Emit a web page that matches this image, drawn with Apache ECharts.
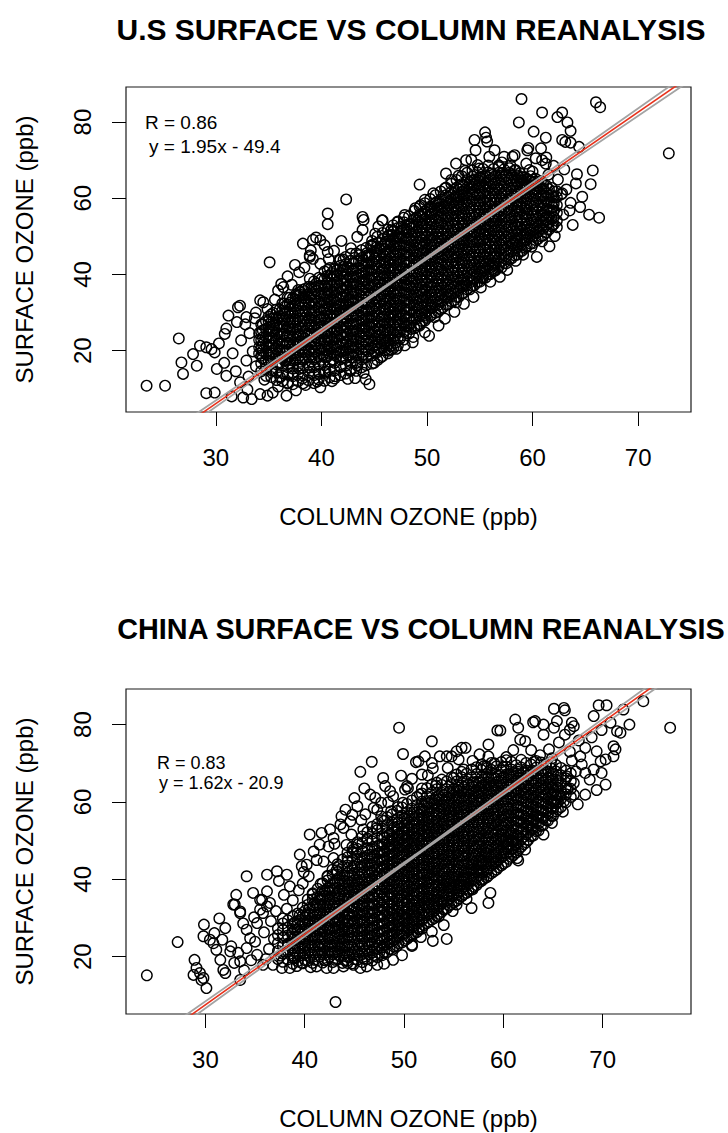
<!DOCTYPE html>
<html>
<head>
<meta charset="utf-8">
<script src="https://cdn.jsdelivr.net/npm/echarts@6/dist/echarts.min.js"></script>
<style>
html,body{margin:0;padding:0;background:#fff;}
#chart{width:728px;height:1133px;}
</style>
</head>
<body>
<div id="chart"></div>
<script>
// ---------------- text ----------------
const panelTitles = ['U.S SURFACE VS COLUMN REANALYSIS', 'CHINA SURFACE VS COLUMN REANALYSIS'];
const xAxisTitle = 'COLUMN OZONE (ppb)';
const yAxisTitle = 'SURFACE OZONE (ppb)';
const xTickValues = [30, 40, 50, 60, 70];
const yTickValues = [20, 40, 60, 80];
const usStats = ['R = 0.86', 'y = 1.95x - 49.4'];
const cnStats = ['R = 0.83', 'y = 1.62x - 20.9'];

// ---------------- axis ranges (read from the frame) ----------------
const usXRange = [21.5, 75.0];
const usYRange = [3.9, 89.2];
const cnXRange = [22.0, 78.9];
const cnYRange = [5.2, 89.2];

// ---------------- regression line and its band, as drawn ----------------
const usFit = [[27, 0.35], [76, 94.1]];
const usBandUpper = [[27, 1.3], [47, 38.75], [76, 95.3]];
const usBandLower = [[27, -0.6], [47, 38.45], [76, 92.9]];
const cnFit = [[27, 2.1], [79, 97.05]];
const cnBandUpper = [[27, 3.1], [52, 47.9], [79, 98.2]];
const cnBandLower = [[27, 1.1], [52, 47.6], [79, 95.9]];

// ---------------- U.S. points: sparse ones read individually [column, surface] ----------------
const usSparse = [
[42.35,59.7],[40.6,56],[40.6,53.2],[43.9,55.1],[44.0,54.3],[45.75,54.2],[46.6,51.6],[46.7,50.4],[35.1,43.2],[38.25,48.1],
[39.2,49.1],[39.5,49.7],[39.9,49.0],[39.0,46.3],[38.9,44.6],[37.9,40.6],[40.6,45.9],[40.7,44.0],[44.7,47.6],[45.2,47.1],
[58.95,86.05],[60.9,82.5],[62.8,82.5],[62.35,81.3],[58.7,79.9],[63.3,79.9],[63.6,77.7],[60.1,77.5],[61.25,75.9],[62.8,75.3],
[63.1,74.8],[63.6,74.6],[64.4,73.5],[66.0,85.2],[66.4,83.9],[72.9,71.8],[54.5,75.3],[55.5,77.3],[55.6,75.9],[55.7,74.9],
[56.4,72.6],[57.3,70.9],[58.3,71.3],[59.5,72.6],[59.6,73.2],[60.8,73.1],[60.3,70.5],[60.9,70.0],[61.25,69.1],[59.4,69.1],
[59.7,67.4],[63.0,67.6],[65.7,67.3],[65.5,63.7],[65.35,55.7],[66.3,54.9],[63.5,56.8],[62.7,61.0],[62.8,61.3],[61.9,57.7],
[61.9,52.9],[61.25,54.2],[59.8,51.7],[58.1,48.1],[58.4,48.9],[56.4,41.05],[49.3,63.6],[49.4,58.2],[45.8,54.2],[47.55,52.5],
[49.1,54.2],[46.8,51.2],[54.95,67.8],[54.8,68.7],[55.1,65.6],[58.4,67.4],[58.7,65.6],[59.05,64.7],
[23.45,10.8],[25.2,10.8],[26.5,23.2],[26.75,16.9],[26.9,13.9],[27.85,19.1],[28.2,16.05],[28.5,21.3],[29.1,20.9],[29.6,20.4],
[29.9,19.55],[29.1,8.85],[29.9,9.0],[30.85,24.4],[31.2,29.2],[32.1,31.4],[32.9,28.8],[32.0,27.5],[30.1,15.2],[31.0,13.4],
[32.3,11.7],[32.6,7.7],[33.4,7.3],[34.2,8.6],[34.9,8.2],[35.4,9.0],[36.7,8.2],[34.2,33.2],[34.5,32.7],[32.3,31.8],
[36.4,36.7],[36.2,37.5],[38.9,45],[39.2,44.1],[41.7,43.7],[44.2,12.5],[44.55,11.2],[36.7,17.4],[37.9,15.2],[39.8,13.9],
[42.7,14.7],[46.4,20],[46.1,22.6],[48.65,22.2],[50.2,23.9],[46.6,20.3],[50.7,28.8],[49.3,26.6],[52.75,32.7],[53.7,37.1],
[55.3,39.3],[56.2,41.5],[56.5,44.6],[49.9,29.2],
[30.8,16.8],[31.9,14.6],[33.1,13.2],[33.8,15.9],[34.6,12.4],[35.3,14.8],[36.1,13.0],[36.8,11.4],[37.3,14.2],[38.2,12.7],
[38.9,15.6],[39.6,11.9],[40.4,14.6],[41.3,13.3],[41.8,15.8],[42.5,12.6],[43.4,16.1],[44.0,14.2],[45.0,16.8],[45.6,18.2],
[31.5,8.0],[33.0,9.8],[35.9,10.6],[37.6,9.6],[38.5,11.0],[39.9,10.4],[41.0,12.0],[43.2,12.8],[32.9,17.4],[33.5,19.8],
[32.4,22.7],[31.6,19.3],[30.3,21.9],[31.0,25.8],[33.2,24.6],[32.8,26.9],[33.7,28.5],[34.9,30.9],[35.6,33.4],[33.8,30.0],
[36.8,39.5],[37.5,42.5],[38.4,41.8],[39.9,42.8],[40.3,47.7],[41.2,46.2],[41.9,48.8],[42.8,46.9],[43.4,49.9],[43.9,51.7],
[44.3,45.6],[45.1,50.7],[45.4,52.6],[46.1,48.6],[47.2,53.7],[47.9,55.6],[48.3,53.1],[48.9,57.4],[49.8,59.6],[50.6,61.3],
[50.9,59.0],[51.7,62.6],[52.3,64.8],[53.0,65.9],[53.6,67.2],[54.2,70.1],[52.8,60.3],[54.0,63.6],[51.8,66.5],[52.75,69.1],
[53.7,70.0],[54.6,72.6],[55.9,70.9],[56.8,68.2],[58.1,70.9],[35.9,35.8],[37.2,37.3],[38.9,38.9],[40.6,41.2],[42.1,43.9],
[43.6,45.1],[44.9,47.9],[46.4,50.2],[47.8,51.9],[49.4,55.2],[50.7,57.1],
[60.0,67.0],[61.5,66.2],[62.4,64.9],[63.2,62.3],[64.1,63.9],[64.7,60.4],[63.6,58.8],[62.9,55.7],[62.3,52.4],[60.9,48.7],
[59.9,47.3],[59.1,45.2],[58.4,43.6],[57.6,41.2],[56.9,39.4],[56.0,38.1],[55.1,36.6],[54.4,34.1],[53.5,32.3],[52.6,30.2],
[51.7,28.4],[51.1,26.6],[49.8,24.8],[48.7,23.6],[47.9,21.4],[47.1,20.5],[60.4,44.6],[61.6,47.4],[62.1,50.1],[63.8,53.0],
[64.5,57.7],[64.2,66.3],[62.0,68.5],[61.3,70.7],[57.1,69.4],[57.9,68.6]
];

// U.S. dense core, estimated column by column: [column value, surface values...]
const usDenseA = [
[34.1,19.2,20.9,22.8,24.6],
[34.45,18.1,19.9,21.7,23.5,25.3,26.9],
[35.0,17.3,18.9,20.8,22.5,24.3,26.0,27.8,28.9],
[35.45,17.8,19.6,21.4,23.1,24.9,26.7,28.4,29.9],
[36.05,16.6,18.4,20.1,21.9,23.7,25.5,27.2,29.0,30.8],
[36.5,17.4,19.2,21.0,22.7,24.5,26.3,28.0,29.8,31.5,32.4],
[37.0,16.7,18.5,20.3,22.0,23.8,25.6,27.3,29.1,30.9,32.6,33.9],
[37.55,17.6,19.4,21.1,22.9,24.7,26.4,28.2,30.0,31.7,33.5,34.6],
[38.0,17.1,18.8,20.6,22.4,24.1,25.9,27.7,29.4,31.2,33.0,34.7,35.4],
[38.45,17.9,19.7,21.5,23.2,25.0,26.8,28.5,30.3,32.1,33.8,35.6,36.2],
[39.05,17.2,19.0,20.8,22.5,24.3,26.1,27.8,29.6,31.4,33.1,34.9,36.7],
[39.5,18.2,19.9,21.7,23.5,25.2,27.0,28.8,30.5,32.3,34.1,35.8,37.6],
[40.0,17.6,19.3,21.1,22.9,24.6,26.4,28.2,29.9,31.7,33.5,35.2,37.0,38.8],
[40.55,18.4,20.2,21.9,23.7,25.5,27.2,29.0,30.8,32.5,34.3,36.1,37.8,39.6],
[41.0,17.6,19.4,21.1,22.9,24.7,26.4,28.2,30.0,31.7,33.5,35.3,37.0,38.8,40.4],
[41.45,18.5,20.3,22.0,23.8,25.6,27.3,29.1,30.9,32.6,34.4,36.2,37.9,39.7,41.1],
[42.05,18.1,19.8,21.6,23.4,25.1,26.9,28.7,30.4,32.2,34.0,35.7,37.5,39.3,41.0,41.9],
[42.5,18.9,20.7,22.5,24.2,26.0,27.8,29.5,31.3,33.1,34.8,36.6,38.4,40.1,41.9],
[43.0,18.2,19.9,21.7,23.5,25.2,27.0,28.8,30.5,32.3,34.1,35.8,37.6,39.4,41.1,42.9],
[43.55,18.7,20.5,22.3,24.0,25.8,27.6,29.3,31.1,32.9,34.6,36.4,38.2,39.9,41.7,43.5],
[44.0,19.1,20.9,22.6,24.4,26.2,27.9,29.7,31.5,33.2,35.0,36.8,38.5,40.3,42.1,43.8],
[44.45,19.9,21.7,23.4,25.2,27.0,28.7,30.5,32.3,34.0,35.8,37.6,39.3,41.1,42.9,44.6,45.1],
[45.05,19.6,21.3,23.1,24.9,26.6,28.4,30.2,31.9,33.7,35.5,37.2,39.0,40.8,42.5,44.3,45.9],
[45.5,20.4,22.2,23.9,25.7,27.5,29.2,31.0,32.8,34.5,36.3,38.1,39.8,41.6,43.4,45.1,46.8],
[46.0,20.1,21.8,23.6,25.4,27.1,28.9,30.7,32.4,34.2,36.0,37.7,39.5,41.3,43.0,44.8,46.6,47.9],
[46.55,21.2,23.0,24.7,26.5,28.3,30.0,31.8,33.6,35.3,37.1,38.9,40.6,42.4,44.2,45.9,47.7,48.6],
[47.0,22.1,23.9,25.6,27.4,29.2,30.9,32.7,34.5,36.2,38.0,39.8,41.5,43.3,45.1,46.8,48.6,49.4],
[47.45,23.2,25.0,26.7,28.5,30.3,32.0,33.8,35.6,37.3,39.1,40.9,42.6,44.4,46.2,47.9,49.7,50.6],
[48.05,24.6,26.4,28.1,29.9,31.7,33.4,35.2,37.0,38.7,40.5,42.3,44.0,45.8,47.6,49.3,51.1,51.9],
[48.5,25.7,27.5,29.2,31.0,32.8,34.5,36.3,38.1,39.8,41.6,43.4,45.1,46.9,48.7,50.4,52.2,53.4],
[49.0,26.6,28.4,30.1,31.9,33.7,35.4,37.2,39.0,40.7,42.5,44.3,46.0,47.8,49.6,51.3,53.1,54.9],
[49.55,27.8,29.6,31.3,33.1,34.9,36.6,38.4,40.2,41.9,43.7,45.5,47.2,49.0,50.8,52.5,54.3,55.9],
[50.0,28.6,30.4,32.1,33.9,35.7,37.4,39.2,41.0,42.7,44.5,46.3,48.0,49.8,51.6,53.3,55.1,56.9],
[50.45,29.4,31.2,32.9,34.7,36.5,38.2,40.0,41.8,43.5,45.3,47.1,48.8,50.6,52.4,54.1,55.9,57.7],
[51.05,30.2,32.0,33.7,35.5,37.3,39.0,40.8,42.6,44.3,46.1,47.9,49.6,51.4,53.2,54.9,56.7,58.5],
[51.5,31.3,33.1,34.8,36.6,38.4,40.1,41.9,43.7,45.4,47.2,49.0,50.7,52.5,54.3,56.0,57.8,59.6],
[52.0,32.1,33.9,35.6,37.4,39.2,40.9,42.7,44.5,46.2,48.0,49.8,51.5,53.3,55.1,56.8,58.6,60.4],
[52.55,33.2,35.0,36.7,38.5,40.3,42.0,43.8,45.6,47.3,49.1,50.9,52.6,54.4,56.2,57.9,59.7,61.5],
[53.0,34.1,35.9,37.6,39.4,41.2,42.9,44.7,46.5,48.2,50.0,51.8,53.5,55.3,57.1,58.8,60.6,62.4],
[53.45,35.2,37.0,38.7,40.5,42.3,44.0,45.8,47.6,49.3,51.1,52.9,54.6,56.4,58.2,59.9,61.7,63.4],
[54.05,36.1,37.9,39.6,41.4,43.2,44.9,46.7,48.5,50.2,52.0,53.8,55.5,57.3,59.1,60.8,62.6,64.3],
[54.5,37.2,39.0,40.7,42.5,44.3,46.0,47.8,49.6,51.3,53.1,54.9,56.6,58.4,60.2,61.9,63.7,64.9],
[55.0,38.1,39.9,41.6,43.4,45.2,46.9,48.7,50.5,52.2,54.0,55.8,57.5,59.3,61.1,62.8,64.6,65.4],
[55.55,39.2,41.0,42.7,44.5,46.3,48.0,49.8,51.6,53.3,55.1,56.9,58.6,60.4,62.2,63.9,65.7],
[56.0,40.1,41.9,43.6,45.4,47.2,48.9,50.7,52.5,54.2,56.0,57.8,59.5,61.3,63.1,64.8,66.4],
[56.45,41.0,42.8,44.5,46.3,48.1,49.8,51.6,53.4,55.1,56.9,58.7,60.4,62.2,64.0,65.7],
[57.05,41.8,43.6,45.3,47.1,48.9,50.6,52.4,54.2,55.9,57.7,59.5,61.2,63.0,64.8,66.5],
[57.5,42.9,44.7,46.4,48.2,50.0,51.7,53.5,55.3,57.0,58.8,60.6,62.3,64.1,65.9],
[58.0,44.2,46.0,47.7,49.5,51.3,53.0,54.8,56.6,58.3,60.1,61.9,63.6,65.4,66.3],
[58.55,45.2,47.0,48.7,50.5,52.3,54.0,55.8,57.6,59.3,61.1,62.9,64.6,66.0],
[59.0,46.2,48.0,49.7,51.5,53.3,55.0,56.8,58.6,60.3,62.1,63.9,65.6],
[59.45,47.3,49.1,50.8,52.6,54.4,56.1,57.9,59.7,61.4,63.2,65.0],
[60.05,48.2,50.0,51.7,53.5,55.3,57.0,58.8,60.6,62.3,64.1,64.9],
[60.5,49.3,51.1,52.8,54.6,56.4,58.1,59.9,61.7,63.4,64.3],
[61.0,50.2,52.0,53.7,55.5,57.3,59.0,60.8,62.6,63.8],
[61.55,51.8,53.6,55.3,57.1,58.9,60.6,62.4],
[62.0,53.2,55.0,56.7,58.5,60.3,61.8]
];
const usDenseB = [
[34.3,14.6,16.7,18.7,20.8,22.8,24.9,26.9],
[34.75,13.4,15.5,17.5,19.6,21.6,23.7,25.7,27.8],
[35.25,13.1,15.2,17.2,19.3,21.3,23.4,25.4,27.5,29.5],
[35.75,12.3,14.4,16.4,18.5,20.5,22.6,24.6,26.7,28.7,30.8],
[36.3,12.0,14.1,16.1,18.2,20.2,22.3,24.3,26.4,28.4,30.5,32.4],
[36.8,11.6,13.7,15.7,17.8,19.8,21.9,23.9,26.0,28.0,30.1,32.1,33.9],
[37.3,11.2,13.3,15.3,17.4,19.4,21.5,23.5,25.6,27.6,29.7,31.7,33.8],
[37.8,12.0,14.1,16.1,18.2,20.2,22.3,24.3,26.4,28.4,30.5,32.5,34.6,35.9],
[38.25,11.4,13.5,15.5,17.6,19.6,21.7,23.7,25.8,27.8,29.9,31.9,34.0,36.0],
[38.8,12.2,14.3,16.3,18.4,20.4,22.5,24.5,26.6,28.6,30.7,32.7,34.8,36.8],
[39.3,11.5,13.6,15.6,17.7,19.7,21.8,23.8,25.9,27.9,30.0,32.0,34.1,36.1,38.2],
[39.75,12.4,14.5,16.5,18.6,20.6,22.7,24.7,26.8,28.8,30.9,32.9,35.0,37.0,39.1],
[40.3,12.1,14.2,16.2,18.3,20.3,22.4,24.4,26.5,28.5,30.6,32.6,34.7,36.7,38.8,40.8],
[40.8,13.0,15.1,17.1,19.2,21.2,23.3,25.3,27.4,29.4,31.5,33.5,35.6,37.6,39.7,41.7],
[41.25,12.7,14.8,16.8,18.9,20.9,23.0,25.0,27.1,29.1,31.2,33.2,35.3,37.3,39.4,41.4],
[41.8,13.6,15.7,17.7,19.8,21.8,23.9,25.9,28.0,30.0,32.1,34.1,36.2,38.2,40.3,42.3,43.9],
[42.3,14.0,16.1,18.1,20.2,22.2,24.3,26.3,28.4,30.4,32.5,34.5,36.6,38.6,40.7,42.7,44.6],
[42.8,14.9,17.0,19.0,21.1,23.1,25.2,27.2,29.3,31.3,33.4,35.4,37.5,39.5,41.6,43.6,45.4],
[43.3,14.7,16.8,18.8,20.9,22.9,25.0,27.0,29.1,31.1,33.2,35.2,37.3,39.3,41.4,43.4,45.5],
[43.8,15.6,17.7,19.7,21.8,23.8,25.9,27.9,30.0,32.0,34.1,36.1,38.2,40.2,42.3,44.3,46.4],
[44.25,16.2,18.3,20.3,22.4,24.4,26.5,28.5,30.6,32.6,34.7,36.7,38.8,40.8,42.9,44.9,47.0],
[44.8,16.6,18.7,20.7,22.8,24.8,26.9,28.9,31.0,33.0,35.1,37.1,39.2,41.2,43.3,45.3,47.4,48.8],
[45.3,17.5,19.6,21.6,23.7,25.7,27.8,29.8,31.9,33.9,36.0,38.0,40.1,42.1,44.2,46.2,48.3,49.9],
[45.8,18.6,20.7,22.7,24.8,26.8,28.9,30.9,33.0,35.0,37.1,39.1,41.2,43.2,45.3,47.3,49.4,50.9],
[46.3,19.3,21.4,23.4,25.5,27.5,29.6,31.6,33.7,35.7,37.8,39.8,41.9,43.9,46.0,48.0,50.1,51.8],
[46.8,20.6,22.7,24.7,26.8,28.8,30.9,32.9,35.0,37.0,39.1,41.1,43.2,45.2,47.3,49.3,51.4,52.9],
[47.25,21.4,23.5,25.5,27.6,29.6,31.7,33.7,35.8,37.8,39.9,41.9,44.0,46.0,48.1,50.1,52.2,53.9],
[47.8,22.9,25.0,27.0,29.1,31.1,33.2,35.2,37.3,39.3,41.4,43.4,45.5,47.5,49.6,51.6,53.7,54.9],
[48.3,24.5,26.6,28.6,30.7,32.7,34.8,36.8,38.9,40.9,43.0,45.0,47.1,49.1,51.2,53.2,55.3],
[48.8,25.9,28.0,30.0,32.1,34.1,36.2,38.2,40.3,42.3,44.4,46.4,48.5,50.5,52.6,54.6,56.7],
[49.3,27.0,29.1,31.1,33.2,35.2,37.3,39.3,41.4,43.4,45.5,47.5,49.6,51.6,53.7,55.7,57.8],
[49.8,27.9,30.0,32.0,34.1,36.1,38.2,40.2,42.3,44.3,46.4,48.4,50.5,52.5,54.6,56.6,58.7],
[50.3,29.1,31.2,33.2,35.3,37.3,39.4,41.4,43.5,45.5,47.6,49.6,51.7,53.7,55.8,57.8,59.8],
[50.8,30.0,32.1,34.1,36.2,38.2,40.3,42.3,44.4,46.4,48.5,50.5,52.6,54.6,56.7,58.7,60.8],
[51.3,31.0,33.1,35.1,37.2,39.2,41.3,43.3,45.4,47.4,49.5,51.5,53.6,55.6,57.7,59.7,61.8],
[51.8,32.1,34.2,36.2,38.3,40.3,42.4,44.4,46.5,48.5,50.6,52.6,54.7,56.7,58.8,60.8,62.8],
[52.3,33.0,35.1,37.1,39.2,41.2,43.3,45.3,47.4,49.4,51.5,53.5,55.6,57.6,59.7,61.7,63.8],
[52.8,34.1,36.2,38.2,40.3,42.3,44.4,46.4,48.5,50.5,52.6,54.6,56.7,58.7,60.8,62.8,64.8],
[53.3,35.0,37.1,39.1,41.2,43.2,45.3,47.3,49.4,51.4,53.5,55.5,57.6,59.6,61.7,63.7,65.8],
[53.8,36.1,38.2,40.2,42.3,44.3,46.4,48.4,50.5,52.5,54.6,56.6,58.7,60.7,62.8,64.8,66.7],
[54.3,37.0,39.1,41.1,43.2,45.2,47.3,49.3,51.4,53.4,55.5,57.5,59.6,61.6,63.7,65.7,67.3],
[54.8,38.1,40.2,42.2,44.3,46.3,48.4,50.4,52.5,54.5,56.6,58.6,60.7,62.7,64.8,66.8],
[55.3,39.0,41.1,43.1,45.2,47.2,49.3,51.3,53.4,55.4,57.5,59.5,61.6,63.6,65.7,67.7],
[55.8,40.1,42.2,44.2,46.3,48.3,50.4,52.4,54.5,56.5,58.6,60.6,62.7,64.7,66.8,68.6],
[56.3,41.0,43.1,45.1,47.2,49.2,51.3,53.3,55.4,57.4,59.5,61.5,63.6,65.6,67.7],
[56.8,42.1,44.2,46.2,48.3,50.3,52.4,54.4,56.5,58.5,60.6,62.6,64.7,66.7,68.6],
[57.3,43.0,45.1,47.1,49.2,51.2,53.3,55.3,57.4,59.4,61.5,63.5,65.6,67.6],
[57.8,44.1,46.2,48.2,50.3,52.3,54.4,56.4,58.5,60.5,62.6,64.6,66.7,67.9],
[58.3,45.0,47.1,49.1,51.2,53.2,55.3,57.3,59.4,61.4,63.5,65.5,67.3],
[58.8,46.1,48.2,50.2,52.3,54.3,56.4,58.4,60.5,62.5,64.6,66.6],
[59.3,47.0,49.1,51.1,53.2,55.2,57.3,59.3,61.4,63.4,65.5],
[59.8,48.1,50.2,52.2,54.3,56.3,58.4,60.4,62.5,64.5,65.8],
[60.3,49.0,51.1,53.1,55.2,57.2,59.3,61.3,63.4,65.1],
[60.8,50.1,52.2,54.2,56.3,58.3,60.4,62.4,64.5],
[61.3,51.0,53.1,55.1,57.2,59.2,61.3,63.3],
[61.8,52.6,54.7,56.7,58.8,60.8,62.7],
[62.3,54.1,56.2,58.2,60.3,61.8]
];

// ---------------- China points ----------------
const cnSparse = [
[49.5,79.2],[49.9,72.4],[51.2,70.3],[46.75,70.4],[45.6,67.8],[48.1,64.1],[48.6,62.8],[48.9,61.5],[50.1,63.2],[50.4,63.6],
[46.6,61.9],[47.1,61.1],[46.95,58.5],[47.3,58.0],[44.1,58.0],[43.7,56.3],[43.6,54.2],[43.9,53.3],[42.55,52.9],[41.7,52.0],
[40.5,51.6],[42.9,50.7],[44.7,51.6],[45.9,52.9],[39.5,46.4],[40.9,47.2],[41.5,49.0],[40.2,43.8],[39.7,43.4],[40.4,40.8],
[42.9,45.5],[43.4,43.4],[44.9,47.7],[45.2,46.8],[34.15,40.8],[36.2,41.2],[37.2,42.1],[38.2,41.2],[33.1,36.0],[32.95,33.5],
[33.5,31.7],[35.7,34.7],[36.2,33.0],[35.5,32.2],
[65.1,84.1],[66.1,84.3],[66.2,83.7],[69.6,85.0],[70.4,85.0],[69.1,82.2],[74.1,86.05],[72.1,83.9],[72.7,80.0],[76.8,79.2],
[61.2,81.3],[61.5,79.2],[63.0,80.6],[63.2,80.9],[59.4,78.5],[59.7,78.5],[64.05,80.0],[65.1,79.2],[65.4,80.9],[66.9,80.5],
[66.7,78.7],[67.1,79.6],[64.05,77.4],[66.2,77.4],[61.7,76.1],[62.2,75.7],[52.8,75.7],[58.5,74.85],[58.5,71.8],[58.0,69.2],
[58.35,68.8],[55.8,74.0],[56.2,74.0],[55.3,73.1],[54.8,71.8],[54.3,71.8],[53.6,71.8],[51.45,70.5],[52.1,71.8],[52.8,70.1],
[51.8,67.1],[56.0,68.4],[55.5,71.0],[55.0,66.2],[50.3,64.1],[49.9,59.8],[68.25,74.0],[67.75,71.8],[69.4,73.1],[69.8,70.5],
[70.3,71.0],[71.1,71.8],[71.3,73.6],[69.9,67.5],[69.1,68.4],[70.3,64.5],[68.25,67.5],[67.1,64.9],[66.4,66.6],[71.45,78.3],
[71.8,77.9],[71.1,74.4],[68.25,61.9],[67.1,61.9],[66.1,60.2],[65.1,59.8],[64.05,51.6],[61.4,45.5],[61.0,49.8],[60.4,49.0],
[60.7,52.0],[63.05,55.4],[63.4,56.3],[65.1,62.8],[65.7,61.5],
[61.5,44.9],[58.7,36.5],[58.5,33.9],[56.8,32.6],[55.8,39.5],[55.65,38.6],[55.3,36.0],[55.3,33.5],[54.3,39.5],[53.8,33.9],
[53.5,30.4],[54.3,24.6],[52.8,26.5],[50.8,22.8],[51.45,27.2],[50.4,27.4],[58.35,42.1],[57.3,42.1],[56.8,42.5],[58.2,46.8],
[57.85,44.7],[61.2,49.2],[59.7,50.3],
[24.1,15.2],[27.2,23.8],[43.1,8.3],[28.9,19.2],[29.1,17.1],[28.8,15.3],[29.45,15.8],[29.8,14.5],[30.1,11.9],[29.6,14.0],
[29.85,28.3],[29.8,25.3],[30.45,24.4],[30.8,23.5],[31.1,21.8],[31.5,19.2],[31.8,16.6],[32.0,15.8],[32.0,27.4],[32.6,22.7],
[32.5,21.4],[32.8,33.5],[33.5,31.3],[33.5,14.0],[33.5,18.8],[33.3,21.0],[34.15,22.25],[35.2,20.5],[35.8,17.9],[36.8,17.9],
[37.7,17.1],[38.5,17.1],[39.7,18.4],[41.2,17.5],[42.2,17.1],[42.9,17.1],[43.9,17.5],[44.9,17.9],[46.25,17.5],[47.3,17.9],
[48.9,19.2],[50.8,23.1],[34.8,36.5],[35.5,34.7],[36.2,36.9],[36.5,33.9],[35.8,31.3],[35.2,28.7],[34.15,27.0],[34.5,24.8],
[36.4,22.0],[36.9,24.6],[37.3,27.3],[37.8,29.9],[38.2,32.4],[36.6,29.2],[37.6,20.3],[38.3,23.1],[38.7,26.0],[37.1,31.8],
[38.8,34.6],[39.4,37.2],[37.9,36.0],[35.9,26.3],[35.0,23.9],[36.1,19.4],[38.9,19.8],[39.8,38.9],[40.8,36.1],[41.6,38.8],
[42.3,40.7],[43.2,42.3],[44.3,44.6],[45.4,49.1],[46.3,50.6],[47.2,53.2],[48.0,55.1],[48.7,57.6],[47.7,59.8],[49.4,58.7],
[45.7,55.3],[44.8,56.7],[42.4,48.5],[41.2,45.0],[44.2,48.9],[47.9,66.2],[49.7,66.8],[50.8,66.0],[52.4,66.9],[53.2,64.2],
[51.6,61.9],[52.9,68.7],[54.4,68.8],[56.9,70.6],[57.6,72.3],[59.1,70.0],[60.3,71.6],[61.0,73.4],[60.0,69.1],[62.8,73.4],
[63.7,72.1],[64.6,73.6],[65.6,75.4],[63.1,70.4],[64.9,71.3],[66.7,73.0],[67.6,75.9],[68.9,76.7],[69.9,78.6],[70.8,80.5],
[67.9,69.7],[66.9,70.7],[67.3,67.9],[68.7,65.8],[69.4,63.1],[66.5,63.4],[66.0,57.5],[67.5,59.4],[64.9,54.6],[62.9,52.9],
[62.2,47.7],[60.1,46.9],[59.2,44.5],[57.8,40.0],[56.9,37.4],[56.3,34.9],[54.9,31.8],[54.0,28.2],[52.9,24.1],[51.7,25.1],
[49.8,20.4],[48.0,18.2],[45.6,17.1],[40.6,17.3],[39.2,17.6],[44.3,18.4],[30.9,26.1],[31.4,29.9],[33.8,28.6],[34.9,30.2],
[31.7,24.4],[33.9,16.5],[34.6,19.1],[32.9,18.4],[44.6,55.0],[45.3,58.9],[46.1,56.8],[47.7,56.3],[48.4,59.9],[46.0,63.5],
[45.0,61.0],[43.0,49.2],[41.9,44.6],[39.9,41.9],[38.5,38.2],[37.4,39.6]
];

const cnDenseA = [
[39.0,19.6,21.5,23.3,25.2,27.0,28.8],
[39.5,20.3,22.1,24.0,25.8,27.7,29.5,30.8],
[40.05,19.1,21.0,22.8,24.7,26.5,28.4,30.2,31.9],
[40.5,19.9,21.8,23.6,25.5,27.3,29.2,31.0,32.7],
[41.0,19.2,21.1,22.9,24.8,26.6,28.5,30.3,32.2,34.0],
[41.55,20.1,22.0,23.8,25.7,27.5,29.4,31.2,33.1,34.9,35.6],
[42.0,19.1,21.0,22.8,24.7,26.5,28.4,30.2,32.1,33.9,35.8,36.9],
[42.5,20.0,21.9,23.7,25.6,27.4,29.3,31.1,33.0,34.8,36.7,37.8],
[43.05,19.2,21.1,22.9,24.8,26.6,28.5,30.3,32.2,34.0,35.9,37.7,39.0],
[43.5,20.2,22.1,23.9,25.8,27.6,29.5,31.3,33.2,35.0,36.9,38.7,40.1],
[44.0,19.1,21.0,22.8,24.7,26.5,28.4,30.2,32.1,33.9,35.8,37.6,39.5,40.9],
[44.45,20.0,21.9,23.7,25.6,27.4,29.3,31.1,33.0,34.8,36.7,38.5,40.4,42.0],
[45.0,19.4,21.3,23.1,25.0,26.8,28.7,30.5,32.4,34.2,36.1,37.9,39.8,41.6,43.3],
[45.55,20.3,22.2,24.0,25.9,27.7,29.6,31.4,33.3,35.1,37.0,38.8,40.7,42.5,44.4],
[46.0,19.6,21.5,23.3,25.2,27.0,28.9,30.7,32.6,34.4,36.3,38.1,40.0,41.8,43.7,45.6],
[46.5,20.6,22.5,24.3,26.2,28.0,29.9,31.7,33.6,35.4,37.3,39.1,41.0,42.8,44.7,46.4],
[47.05,20.2,22.1,23.9,25.8,27.6,29.5,31.3,33.2,35.0,36.9,38.7,40.6,42.4,44.3,46.1,47.8],
[47.5,21.0,22.9,24.7,26.6,28.4,30.3,32.1,34.0,35.8,37.7,39.5,41.4,43.2,45.1,46.9,48.7],
[48.0,21.2,23.1,24.9,26.8,28.6,30.5,32.3,34.2,36.0,37.9,39.7,41.6,43.4,45.3,47.1,49.0,50.8],
[48.55,22.0,23.9,25.7,27.6,29.4,31.3,33.1,35.0,36.8,38.7,40.5,42.4,44.2,46.1,47.9,49.8,51.6],
[49.0,22.6,24.5,26.3,28.2,30.0,31.9,33.7,35.6,37.4,39.3,41.1,43.0,44.8,46.7,48.5,50.4,52.2,53.4],
[49.45,23.5,25.4,27.2,29.1,30.9,32.8,34.6,36.5,38.3,40.2,42.0,43.9,45.7,47.6,49.4,51.3,53.1,54.7],
[50.05,24.2,26.1,27.9,29.8,31.6,33.5,35.3,37.2,39.0,40.9,42.7,44.6,46.4,48.3,50.1,52.0,53.8,55.7],
[50.5,25.1,27.0,28.8,30.7,32.5,34.4,36.2,38.1,39.9,41.8,43.6,45.5,47.3,49.2,51.0,52.9,54.7,56.4],
[51.0,26.0,27.9,29.7,31.6,33.4,35.3,37.1,39.0,40.8,42.7,44.5,46.4,48.2,50.1,51.9,53.8,55.6,57.3],
[51.55,27.1,29.0,30.8,32.7,34.5,36.4,38.2,40.1,41.9,43.8,45.6,47.5,49.3,51.2,53.0,54.9,56.7,58.3],
[52.0,28.2,30.1,31.9,33.8,35.6,37.5,39.3,41.2,43.0,44.9,46.7,48.6,50.4,52.3,54.1,56.0,57.8,59.0],
[52.5,29.1,31.0,32.8,34.7,36.5,38.4,40.2,42.1,43.9,45.8,47.6,49.5,51.3,53.2,55.0,56.9,58.7,59.7],
[53.05,30.0,31.9,33.7,35.6,37.4,39.3,41.1,43.0,44.8,46.7,48.5,50.4,52.2,54.1,55.9,57.8,59.6,60.5],
[53.5,31.1,33.0,34.8,36.7,38.5,40.4,42.2,44.1,45.9,47.8,49.6,51.5,53.3,55.2,57.0,58.9,60.7,61.5],
[54.0,32.2,34.1,35.9,37.8,39.6,41.5,43.3,45.2,47.0,48.9,50.7,52.6,54.4,56.3,58.1,60.0,61.8],
[54.55,33.2,35.1,36.9,38.8,40.6,42.5,44.3,46.2,48.0,49.9,51.7,53.6,55.4,57.3,59.1,61.0,62.6],
[55.0,34.0,35.9,37.7,39.6,41.4,43.3,45.1,47.0,48.8,50.7,52.5,54.4,56.2,58.1,59.9,61.8,63.2],
[55.5,35.1,37.0,38.8,40.7,42.5,44.4,46.2,48.1,49.9,51.8,53.6,55.5,57.3,59.2,61.0,62.9,63.7],
[56.05,36.2,38.1,39.9,41.8,43.6,45.5,47.3,49.2,51.0,52.9,54.7,56.6,58.4,60.3,62.1,63.9],
[56.5,37.0,38.9,40.7,42.6,44.4,46.3,48.1,50.0,51.8,53.7,55.5,57.4,59.2,61.1,62.9,64.5],
[57.0,38.1,40.0,41.8,43.7,45.5,47.4,49.2,51.1,52.9,54.8,56.6,58.5,60.3,62.2,64.0,65.1],
[57.55,39.2,41.1,42.9,44.8,46.6,48.5,50.3,52.2,54.0,55.9,57.7,59.6,61.4,63.3,65.1],
[58.0,40.1,42.0,43.8,45.7,47.5,49.4,51.2,53.1,54.9,56.8,58.6,60.5,62.3,64.2,65.9],
[58.5,41.0,42.9,44.7,46.6,48.4,50.3,52.1,54.0,55.8,57.7,59.5,61.4,63.2,65.1,66.3],
[59.05,42.1,44.0,45.8,47.7,49.5,51.4,53.2,55.1,56.9,58.8,60.6,62.5,64.3,66.2],
[59.5,43.1,45.0,46.8,48.7,50.5,52.4,54.2,56.1,57.9,59.8,61.6,63.5,65.3,66.8],
[60.0,44.1,46.0,47.8,49.7,51.5,53.4,55.2,57.1,58.9,60.8,62.6,64.5,66.3],
[60.55,45.3,47.2,49.0,50.9,52.7,54.6,56.4,58.3,60.1,62.0,63.8,65.7,67.2],
[61.0,46.2,48.1,49.9,51.8,53.6,55.5,57.3,59.2,61.0,62.9,64.7,66.6,67.5],
[61.5,47.6,49.5,51.3,53.2,55.0,56.9,58.7,60.6,62.4,64.3,66.1,67.8],
[62.05,49.1,51.0,52.8,54.7,56.5,58.4,60.2,62.1,63.9,65.8,67.6],
[62.5,50.2,52.1,53.9,55.8,57.6,59.5,61.3,63.2,65.0,66.9,68.0],
[63.0,51.3,53.2,55.0,56.9,58.7,60.6,62.4,64.3,66.1,68.0],
[63.55,52.6,54.5,56.3,58.2,60.0,61.9,63.7,65.6,67.4],
[64.0,54.0,55.9,57.7,59.6,61.4,63.3,65.1,67.0,68.1],
[64.5,55.2,57.1,58.9,60.8,62.6,64.5,66.3,67.9],
[65.0,56.4,58.3,60.1,62.0,63.8,65.7,67.4],
[65.5,58.1,60.0,61.8,63.7,65.5,66.9]
];
const cnDenseB = [
[37.3,19.4,21.5,23.5,25.6],
[37.8,18.7,20.8,22.8,24.9,26.9,28.6],
[38.3,19.3,21.4,23.4,25.5,27.5,29.4],
[38.8,18.2,20.3,22.3,24.4,26.4,28.5,30.5],
[39.3,18.9,21.0,23.0,25.1,27.1,29.2,31.2],
[39.8,18.3,20.4,22.4,24.5,26.5,28.6,30.6,32.7],
[40.3,19.0,21.1,23.1,25.2,27.2,29.3,31.3,33.4,34.8],
[40.8,18.4,20.5,22.5,24.6,26.6,28.7,30.7,32.8,34.8,36.4],
[41.3,19.1,21.2,23.2,25.3,27.3,29.4,31.4,33.5,35.5,37.6],
[41.8,18.5,20.6,22.6,24.7,26.7,28.8,30.8,32.9,34.9,37.0,39.0],
[42.3,19.2,21.3,23.3,25.4,27.4,29.5,31.5,33.6,35.6,37.7,39.7,40.9],
[42.8,18.6,20.7,22.7,24.8,26.8,28.9,30.9,33.0,35.0,37.1,39.1,41.2,42.5],
[43.3,19.3,21.4,23.4,25.5,27.5,29.6,31.6,33.7,35.7,37.8,39.8,41.9,43.9],
[43.8,18.4,20.5,22.5,24.6,26.6,28.7,30.7,32.8,34.8,36.9,38.9,41.0,43.0,45.1],
[44.3,19.0,21.1,23.1,25.2,27.2,29.3,31.3,33.4,35.4,37.5,39.5,41.6,43.6,45.7,46.9],
[44.8,18.3,20.4,22.4,24.5,26.5,28.6,30.6,32.7,34.7,36.8,38.8,40.9,42.9,45.0,47.0,48.4],
[45.3,19.2,21.3,23.3,25.4,27.4,29.5,31.5,33.6,35.6,37.7,39.7,41.8,43.8,45.9,47.9,49.6],
[45.8,18.6,20.7,22.7,24.8,26.8,28.9,30.9,33.0,35.0,37.1,39.1,41.2,43.2,45.3,47.3,49.4,51.1],
[46.3,19.4,21.5,23.5,25.6,27.6,29.7,31.7,33.8,35.8,37.9,39.9,42.0,44.0,46.1,48.1,50.2,52.2],
[46.8,19.0,21.1,23.1,25.2,27.2,29.3,31.3,33.4,35.4,37.5,39.5,41.6,43.6,45.7,47.7,49.8,51.8,53.6],
[47.3,19.9,22.0,24.0,26.1,28.1,30.2,32.2,34.3,36.3,38.4,40.4,42.5,44.5,46.6,48.6,50.7,52.7,54.3],
[47.8,20.4,22.5,24.5,26.6,28.6,30.7,32.7,34.8,36.8,38.9,40.9,43.0,45.0,47.1,49.1,51.2,53.2,55.3],
[48.3,21.2,23.3,25.3,27.4,29.4,31.5,33.5,35.6,37.6,39.7,41.7,43.8,45.8,47.9,49.9,52.0,54.0,56.1],
[48.8,21.9,24.0,26.0,28.1,30.1,32.2,34.2,36.3,38.3,40.4,42.4,44.5,46.5,48.6,50.6,52.7,54.7,56.8],
[49.3,22.8,24.9,26.9,29.0,31.0,33.1,35.1,37.2,39.2,41.3,43.3,45.4,47.4,49.5,51.5,53.6,55.6,57.7],
[49.8,23.7,25.8,27.8,29.9,31.9,34.0,36.0,38.1,40.1,42.2,44.2,46.3,48.3,50.4,52.4,54.5,56.5,58.6],
[50.3,24.6,26.7,28.7,30.8,32.8,34.9,36.9,39.0,41.0,43.1,45.1,47.2,49.2,51.3,53.3,55.4,57.4,59.5],
[50.8,25.5,27.6,29.6,31.7,33.7,35.8,37.8,39.9,41.9,44.0,46.0,48.1,50.1,52.2,54.2,56.3,58.3,60.4],
[51.3,26.4,28.5,30.5,32.6,34.6,36.7,38.7,40.8,42.8,44.9,46.9,49.0,51.0,53.1,55.1,57.2,59.2,61.3],
[51.8,27.3,29.4,31.4,33.5,35.5,37.6,39.6,41.7,43.7,45.8,47.8,49.9,51.9,54.0,56.0,58.1,60.1,62.2,63.5],
[52.3,28.7,30.8,32.8,34.9,36.9,39.0,41.0,43.1,45.1,47.2,49.2,51.3,53.3,55.4,57.4,59.5,61.5,63.6],
[52.8,29.6,31.7,33.7,35.8,37.8,39.9,41.9,44.0,46.0,48.1,50.1,52.2,54.2,56.3,58.3,60.4,62.4,64.5],
[53.3,30.5,32.6,34.6,36.7,38.7,40.8,42.8,44.9,46.9,49.0,51.0,53.1,55.1,57.2,59.2,61.3,63.3,65.0],
[53.8,31.6,33.7,35.7,37.8,39.8,41.9,43.9,46.0,48.0,50.1,52.1,54.2,56.2,58.3,60.3,62.4,64.4,65.8],
[54.3,32.5,34.6,36.6,38.7,40.7,42.8,44.8,46.9,48.9,51.0,53.0,55.1,57.1,59.2,61.2,63.3,65.3],
[54.8,33.6,35.7,37.7,39.8,41.8,43.9,45.9,48.0,50.0,52.1,54.1,56.2,58.2,60.3,62.3,64.4,66.4],
[55.3,34.5,36.6,38.6,40.7,42.7,44.8,46.8,48.9,50.9,53.0,55.0,57.1,59.1,61.2,63.2,65.3,67.1],
[55.8,35.6,37.7,39.7,41.8,43.8,45.9,47.9,50.0,52.0,54.1,56.1,58.2,60.2,62.3,64.3,66.4,67.8],
[56.3,36.5,38.6,40.6,42.7,44.7,46.8,48.8,50.9,52.9,55.0,57.0,59.1,61.1,63.2,65.2,67.3],
[56.8,37.6,39.7,41.7,43.8,45.8,47.9,49.9,52.0,54.0,56.1,58.1,60.2,62.2,64.3,66.3,68.4],
[57.3,38.5,40.6,42.6,44.7,46.7,48.8,50.8,52.9,54.9,57.0,59.0,61.1,63.1,65.2,67.2,69.0],
[57.8,39.6,41.7,43.7,45.8,47.8,49.9,51.9,54.0,56.0,58.1,60.1,62.2,64.2,66.3,68.3,69.6],
[58.3,40.5,42.6,44.6,46.7,48.7,50.8,52.8,54.9,56.9,59.0,61.0,63.1,65.1,67.2,69.2],
[58.8,41.6,43.7,45.7,47.8,49.8,51.9,53.9,56.0,58.0,60.1,62.1,64.2,66.2,68.3,70.1],
[59.3,42.5,44.6,46.6,48.7,50.7,52.8,54.8,56.9,58.9,61.0,63.0,65.1,67.1,69.2],
[59.8,43.6,45.7,47.7,49.8,51.8,53.9,55.9,58.0,60.0,62.1,64.1,66.2,68.2,70.3],
[60.3,44.5,46.6,48.6,50.7,52.7,54.8,56.8,58.9,60.9,63.0,65.0,67.1,69.1,70.8],
[60.8,45.8,47.9,49.9,52.0,54.0,56.1,58.1,60.2,62.2,64.3,66.3,68.4,70.4],
[61.3,46.9,49.0,51.0,53.1,55.1,57.2,59.2,61.3,63.3,65.4,67.4,69.5],
[61.8,48.4,50.5,52.5,54.6,56.6,58.7,60.7,62.8,64.8,66.9,68.9,70.9],
[62.3,49.6,51.7,53.7,55.8,57.8,59.9,61.9,64.0,66.0,68.1,70.1],
[62.8,51.2,53.3,55.3,57.4,59.4,61.5,63.5,65.6,67.6,69.7],
[63.3,52.5,54.6,56.6,58.7,60.7,62.8,64.8,66.9,68.9,70.6],
[63.8,53.8,55.9,57.9,60.0,62.0,64.1,66.1,68.2,70.2],
[64.3,55.3,57.4,59.4,61.5,63.5,65.6,67.6,69.7],
[64.8,56.4,58.5,60.5,62.6,64.6,66.7,68.7,70.3],
[65.3,57.6,59.7,61.7,63.8,65.8,67.9,69.6],
[65.8,58.7,60.8,62.8,64.9,66.9,68.8],
[66.3,59.9,62.0,64.0,66.1,68.1],
[66.8,61.3,63.4,65.4,67.4]
];

// ---------------- build ----------------
function columnsToPairs(cols) {
  const out = [];
  cols.forEach(c => { for (let i = 1; i < c.length; i++) out.push([c[0], c[i]]); });
  return out;
}
const usPoints = usSparse.concat(columnsToPairs(usDenseA), columnsToPairs(usDenseB));
const cnPoints = cnSparse.concat(columnsToPairs(cnDenseA), columnsToPairs(cnDenseB));

const FONT = '"Liberation Sans", Arial, Helvetica, sans-serif';
const BASE = 24;
const gridBoxes = [
  {left: 126, top: 87, width: 565, height: 325},
  {left: 126, top: 689, width: 565, height: 325}
];

function xAxisFor(i, range) {
  return {
    gridIndex: i, type: 'value', min: range[0], max: range[1],
    splitLine: {show: false},
    axisLine: {show: false, onZero: false},
    axisTick: {show: true, inside: false, length: 14, customValues: xTickValues,
               lineStyle: {color: '#000', width: 1}},
    axisLabel: {show: true, customValues: xTickValues, margin: 33, color: '#000',
                fontSize: BASE, fontFamily: FONT},
    name: xAxisTitle, nameLocation: 'middle', nameGap: 92,
    nameTextStyle: {color: '#000', fontSize: BASE, fontFamily: FONT}
  };
}
function yAxisFor(i, range) {
  return {
    gridIndex: i, type: 'value', min: range[0], max: range[1],
    splitLine: {show: false},
    axisLine: {show: false, onZero: false},
    axisTick: {show: true, inside: false, length: 14, customValues: yTickValues,
               lineStyle: {color: '#000', width: 1}},
    axisLabel: {show: true, customValues: yTickValues, margin: 32, rotate: 90, color: '#000',
                fontSize: BASE, fontFamily: FONT},
    name: yAxisTitle, nameLocation: 'middle', nameGap: 90,
    nameTextStyle: {color: '#000', fontSize: BASE, fontFamily: FONT}
  };
}
function scatterFor(i, pts) {
  return {
    type: 'scatter', xAxisIndex: i, yAxisIndex: i, data: pts,
    symbol: 'circle', symbolSize: 10.5, large: false, progressive: 0,
    itemStyle: {color: 'rgba(0,0,0,0)', borderColor: '#000', borderWidth: 1.4, opacity: 1},
    emphasis: {disabled: true}, silent: true, z: 2
  };
}
function lineFor(i, pts, color, width, z) {
  return {
    type: 'line', xAxisIndex: i, yAxisIndex: i, data: pts, showSymbol: false, symbol: 'none',
    clip: true, lineStyle: {color: color, width: width}, silent: true, z: z,
    emphasis: {disabled: true}
  };
}
function txt(x, y, text, font, align) {
  return {type: 'text', x: x, y: y, silent: true,
          style: {text: text, font: font, fill: '#000', textAlign: align, align: align,
                  textVerticalAlign: 'middle', verticalAlign: 'middle'}};
}

const RED = '#e8321c';
const GREY = '#a3a3a3';

const option = {
  animation: false,
  backgroundColor: '#fff',
  grid: gridBoxes.map(g => Object.assign({show: true, borderColor: '#1a1a1a', borderWidth: 1.2,
                                          backgroundColor: 'rgba(0,0,0,0)', containLabel: false,
                                          outerBoundsMode: 'none'}, g)),
  xAxis: [xAxisFor(0, usXRange), xAxisFor(1, cnXRange)],
  yAxis: [yAxisFor(0, usYRange), yAxisFor(1, cnYRange)],
  series: [
    scatterFor(0, usPoints),
    lineFor(0, usFit, RED, 1.6, 3),
    lineFor(0, usBandUpper, GREY, 1.8, 4),
    lineFor(0, usBandLower, GREY, 1.8, 4),
    scatterFor(1, cnPoints),
    lineFor(1, cnFit, RED, 1.6, 3),
    lineFor(1, cnBandUpper, GREY, 1.8, 4),
    lineFor(1, cnBandLower, GREY, 1.8, 4)
  ],
  graphic: [
    txt(411, 29, panelTitles[0], 'bold 30px ' + FONT, 'center'),
    txt(421, 628.5, panelTitles[1], 'bold 28.8px ' + FONT, 'center'),
    txt(145, 122.5, usStats[0], '19px ' + FONT, 'left'),
    txt(149, 146.7, usStats[1], '19px ' + FONT, 'left'),
    txt(157, 763, cnStats[0], '18px ' + FONT, 'left'),
    txt(159, 782.5, cnStats[1], '18px ' + FONT, 'left')
  ]
};

const chart = echarts.init(document.getElementById('chart'), null, {renderer: 'svg'});
chart.setOption(option);
</script>
</body>
</html>
